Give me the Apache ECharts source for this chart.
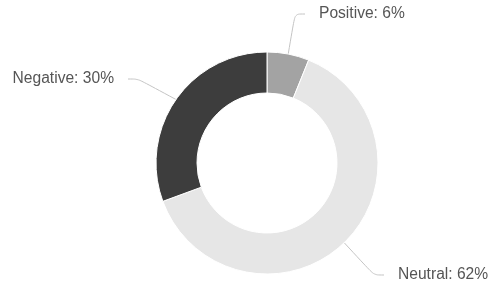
<!DOCTYPE html>
<html>
<head>
<meta charset="utf-8">
<script src="https://cdn.jsdelivr.net/npm/echarts@6/dist/echarts.min.js"></script>
<style>
html, body { margin: 0; padding: 0; background: #fff; }
#chart { width: 489px; height: 288px; }
</style>
</head>
<body>
<div id="chart"></div>
<script>
// sentiment share, clockwise from 12 o'clock
var categories = ['Positive', 'Neutral', 'Negative'];
var values = [6, 62, 30];
var colors = ['#a3a3a3', '#e6e6e6', '#3d3d3d'];

// where each label sits (left/right anchor, y centre)
var labelSpots = [
    {x: 319, y: 14, align: 'left'},
    {x: 398, y: 275, align: 'left'},
    {x: 114, y: 79, align: 'right'}
];

var pieData = [];
for (var i = 0; i < categories.length; i++) {
    pieData.push({
        name: categories[i],
        value: values[i],
        itemStyle: {color: colors[i]}
    });
}

var myChart = echarts.init(document.getElementById('chart'));
myChart.setOption({
    animation: false,
    series: [{
        type: 'pie',
        center: [267, 163],
        radius: [70, 111],
        startAngle: 90,
        clockwise: true,
        itemStyle: {borderColor: '#fff', borderWidth: 1},
        label: {
            show: true,
            formatter: '{b}: {c}%',
            fontFamily: 'Liberation Sans, Arial, sans-serif',
            fontSize: 15.6,
            color: '#555555',
            overflow: 'none',
            // white halo keeps the leader line off the text
            textBorderColor: '#fff',
            textBorderWidth: 28
        },
        labelLine: {
            show: true,
            smooth: 0.3,
            length: 15,
            length2: 10,
            lineStyle: {color: '#c4c4c4', width: 1}
        },
        labelLayout: function (params) {
            var s = labelSpots[params.dataIndex];
            return {
                x: s.x,
                y: s.y,
                align: s.align,
                verticalAlign: 'middle'
            };
        },
        emphasis: {disabled: true},
        data: pieData
    }]
});
</script>
</body>
</html>
